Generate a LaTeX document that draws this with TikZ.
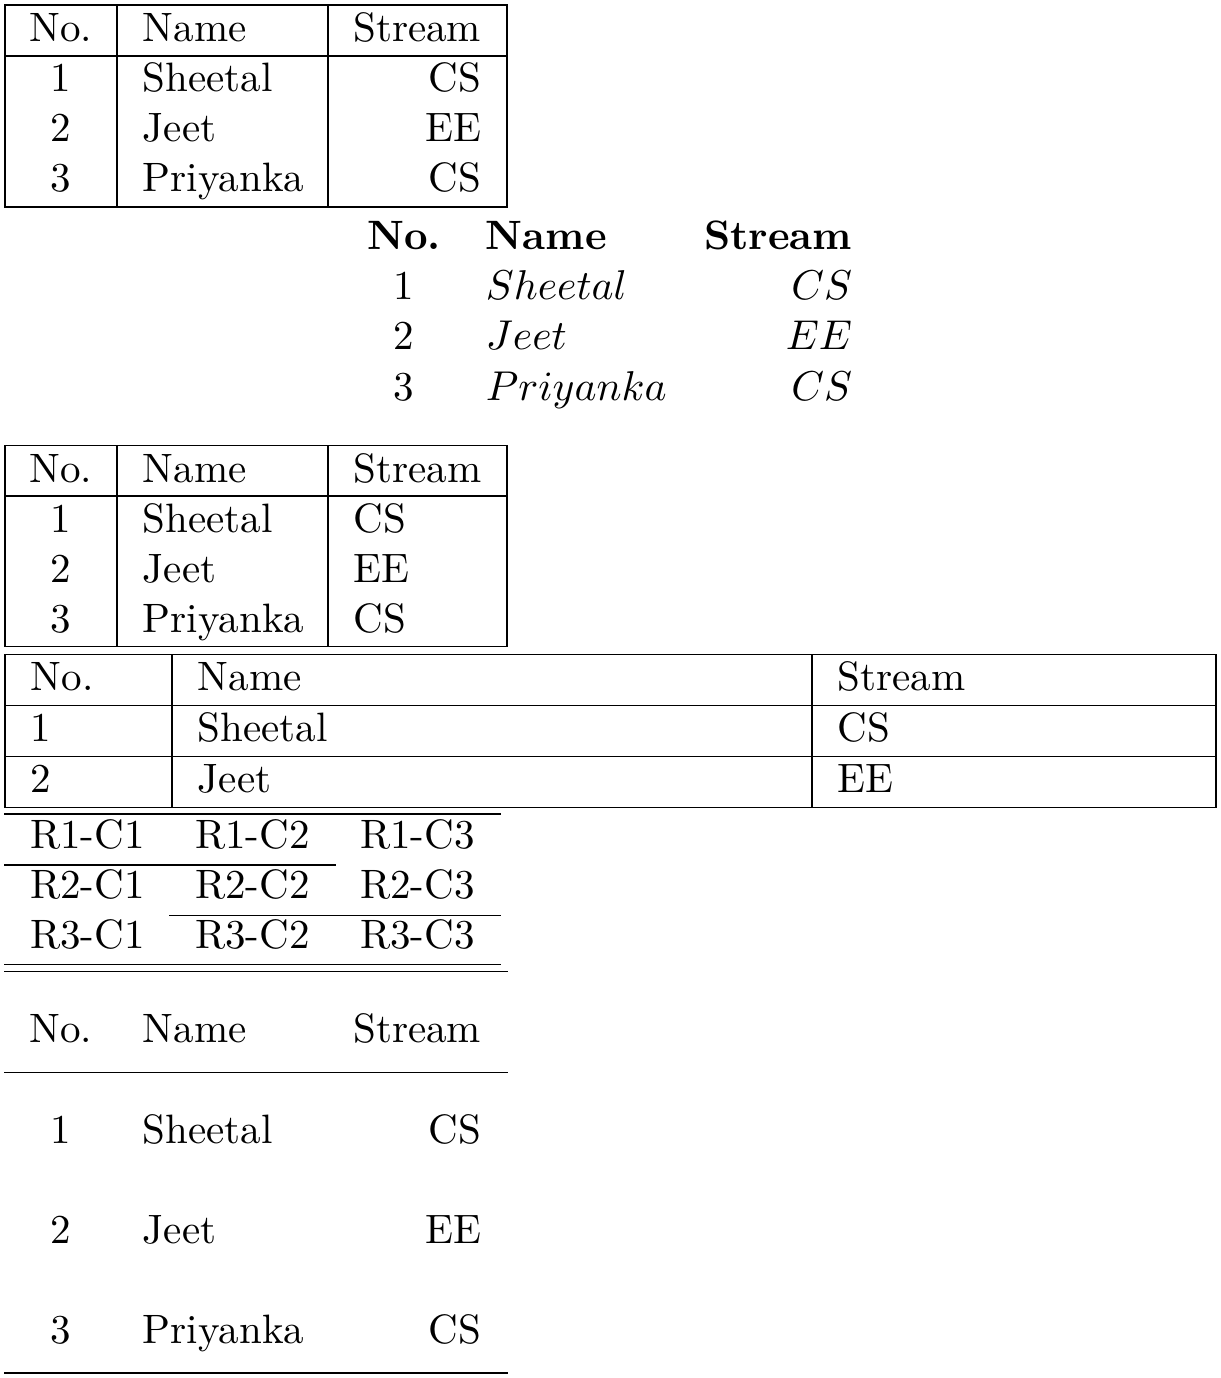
\documentclass[tikz,border=0pt]{standalone}
\begin{document}
\begin{tikzpicture}[x=0.24pt,y=-0.24pt,
  rule/.style={line width=0.4pt,line cap=rect},
  txt/.style={inner sep=0pt,font=\fontsize{9.85}{11.8}\selectfont},
  cc/.style={txt,anchor=base},
  cl/.style={txt,anchor=base west},
  cr/.style={txt,anchor=base east}]
\useasboundingbox (0,0) rectangle (1221,1378);
% ---------- Table 1 ----------
\draw[rule] (5,5) -- (507,5) (5,56) -- (507,56) (5,207) -- (507,207);
\draw[rule] (5,5) -- (5,207) (117,5) -- (117,207) (328,5) -- (328,207) (507,5) -- (507,207);
\node[cc] (a11) at (61,41.5) {No.};
\node[cl] (a12) at (142,41.5) {Name};
\node[cr] (a13) at (482,41.5) {Stream};
\node[cc] (a21) at (61,91.5) {1};
\node[cl] (a22) at (142,91.5) {Sheetal};
\node[cr] (a23) at (482,91.5) {CS};
\node[cc] (a31) at (61,141.5) {2};
\node[cl] (a32) at (142,141.5) {Jeet};
\node[cr] (a33) at (482,141.5) {EE};
\node[cc] (a41) at (61,191.5) {3};
\node[cl] (a42) at (142,191.5) {Priyanka};
\node[cr] (a43) at (482,191.5) {CS};
% ---------- Table 2 ----------
\node[cc] (b11) at (404,250) {\textbf{No.}};
\node[cl] (b12) at (485,250) {\textbf{Name}};
\node[cr] (b13) at (853,250) {\textbf{Stream}};
\node[cc] (b21) at (404,300) {1};
\node[cl] (b22) at (485,300) {$Sheetal$};
\node[cr] (b23) at (853,300) {$CS$};
\node[cc] (b31) at (404,350) {2};
\node[cl] (b32) at (485,350) {$Jeet$};
\node[cr] (b33) at (853,350) {$EE$};
\node[cc] (b41) at (404,400) {3};
\node[cl] (b42) at (485,400) {$Priyanka$};
\node[cr] (b43) at (853,400) {$CS$};
% ---------- Table 3 ----------
\draw[rule] (5,445.5) -- (507,445.5) (5,496) -- (507,496) (5,646.5) -- (507,646.5);
\draw[rule] (5,445.5) -- (5,646.5) (117,445.5) -- (117,646.5) (328,445.5) -- (328,646.5) (507,445.5) -- (507,646.5);
\node[cc] (c11) at (61,482) {No.};
\node[cl] (c12) at (142,482) {Name};
\node[cl] (c13) at (353,482) {Stream};
\node[cc] (c21) at (61,532) {1};
\node[cl] (c22) at (142,532) {Sheetal};
\node[cl] (c23) at (353,532) {CS};
\node[cc] (c31) at (61,582) {2};
\node[cl] (c32) at (142,582) {Jeet};
\node[cl] (c33) at (353,582) {EE};
\node[cc] (c41) at (61,632) {3};
\node[cl] (c42) at (142,632) {Priyanka};
\node[cl] (c43) at (353,632) {CS};
% ---------- Table 4 ----------
\draw[rule] (5,654.5) -- (1216,654.5) (5,705.5) -- (1216,705.5) (5,756.5) -- (1216,756.5) (5,807.5) -- (1216,807.5);
\draw[rule] (5,654.5) -- (5,807.5) (172,654.5) -- (172,807.5) (812,654.5) -- (812,807.5) (1216,654.5) -- (1216,807.5);
\node[cl] (d11) at (30,690.5) {No.};
\node[cl] (d12) at (197,690.5) {Name};
\node[cl] (d13) at (837,690.5) {Stream};
\node[cl] (d21) at (30,741.5) {1};
\node[cl] (d22) at (197,741.5) {Sheetal};
\node[cl] (d23) at (837,741.5) {CS};
\node[cl] (d31) at (30,792.5) {2};
\node[cl] (d32) at (197,792.5) {Jeet};
\node[cl] (d33) at (837,792.5) {EE};
% ---------- Table 5 ----------
\draw[rule] (5,814) -- (500,814);
\draw[rule] (5,865) -- (335,865);
\draw[rule] (170,915.5) -- (500,915.5);
\draw[rule] (5,964.5) -- (500,964.5);
\node[cc] (e11) at (87.5,848.5) {R1-C1};
\node[cc] (e12) at (252.5,848.5) {R1-C2};
\node[cc] (e13) at (417.5,848.5) {R1-C3};
\node[cc] (e21) at (87.5,898.5) {R2-C1};
\node[cc] (e22) at (252.5,898.5) {R2-C2};
\node[cc] (e23) at (417.5,898.5) {R2-C3};
\node[cc] (e31) at (87.5,948.5) {R3-C1};
\node[cc] (e32) at (252.5,948.5) {R3-C2};
\node[cc] (e33) at (417.5,948.5) {R3-C3};
% ---------- Table 6 ----------
\draw[rule] (5,971.5) -- (507,971.5) (5,1072.5) -- (507,1072.5) (5,1373) -- (507,1373);
\node[cc] (f11) at (61,1042) {No.};
\node[cl] (f12) at (142,1042) {Name};
\node[cr] (f13) at (482,1042) {Stream};
\node[cc] (f21) at (61,1143) {1};
\node[cl] (f22) at (142,1143) {Sheetal};
\node[cr] (f23) at (482,1143) {CS};
\node[cc] (f31) at (61,1243) {2};
\node[cl] (f32) at (142,1243) {Jeet};
\node[cr] (f33) at (482,1243) {EE};
\node[cc] (f41) at (61,1343) {3};
\node[cl] (f42) at (142,1343) {Priyanka};
\node[cr] (f43) at (482,1343) {CS};
\end{tikzpicture}
\end{document}
